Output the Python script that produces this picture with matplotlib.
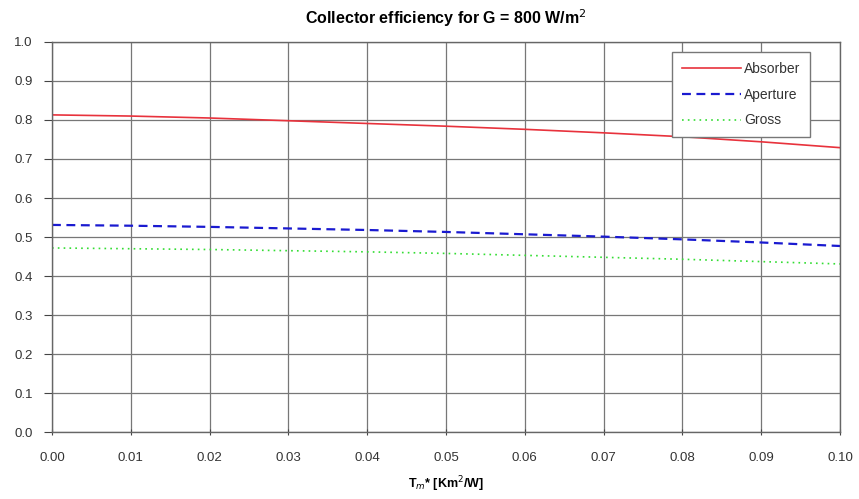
import matplotlib
matplotlib.use('Agg')
import matplotlib.pyplot as plt
import numpy as np

plt.rcParams['font.family'] = ['Liberation Sans', 'DejaVu Sans']

# reduced temperature difference Tm* [Km2/W]
tm = [0.00, 0.01, 0.02, 0.03, 0.04, 0.05, 0.06, 0.07, 0.08, 0.09, 0.10]

eff_absorber = [0.813, 0.810, 0.805, 0.798, 0.791, 0.784, 0.776, 0.767, 0.757, 0.744, 0.729]
eff_aperture = [0.531, 0.529, 0.526, 0.522, 0.518, 0.513, 0.507, 0.501, 0.494, 0.486, 0.477]
eff_gross = [0.472, 0.470, 0.468, 0.465, 0.462, 0.458, 0.453, 0.448, 0.443, 0.437, 0.431]

fig = plt.figure(figsize=(8.59, 4.99), dpi=100)
ax = fig.add_axes([0.0605, 0.134, 0.9175, 0.782])

ax.plot(tm, eff_absorber, color='#e8323c', linewidth=1.2, label='Absorber')
ax.plot(tm, eff_aperture, color='#1a1ad0', linewidth=1.6, linestyle=(0, (4, 2.5)), label='Aperture')
ax.plot(tm, eff_gross, color='#33dd33', linewidth=1.2, linestyle=(0, (1, 2.5)), label='Gross')

ax.set_xlim(0, 0.10)
ax.set_ylim(0, 1.0)
ax.set_xticks(np.arange(0, 0.1001, 0.01))
ax.set_yticks(np.arange(0, 1.001, 0.1))
ax.set_xticklabels([f'{v:.2f}' for v in np.arange(0, 0.1001, 0.01)])
ax.set_yticklabels([f'{v:.1f}' for v in np.arange(0, 1.001, 0.1)])
ax.tick_params(colors='#444444', labelsize=9.5, width=0.8, labelcolor='#333333')
ax.tick_params(axis='y', length=6, pad=8)
ax.tick_params(axis='x', length=4, direction='inout', pad=12)
ax.grid(True, color='#777777', linewidth=0.9)
ax.set_axisbelow(True)
for s in ax.spines.values():
    s.set_color('#666666')
    s.set_linewidth(1.0)

ax.set_title('Collector efficiency for G = 800 W/m$^2$', fontsize=11.5, fontweight='bold', pad=13)
ax.set_xlabel('T$_m$* [Km$^2$/W]', fontsize=9, fontweight='bold', labelpad=8)

leg = ax.legend(loc='upper right', bbox_to_anchor=(0.962, 0.974), borderaxespad=0,
                fontsize=10, fancybox=False, framealpha=1, edgecolor='#777777',
                handlelength=4.3, handletextpad=0.2, labelspacing=0.85, borderpad=0.7)
for t in leg.get_texts():
    t.set_color('#333333')

fig.savefig('out.png', dpi=100)
